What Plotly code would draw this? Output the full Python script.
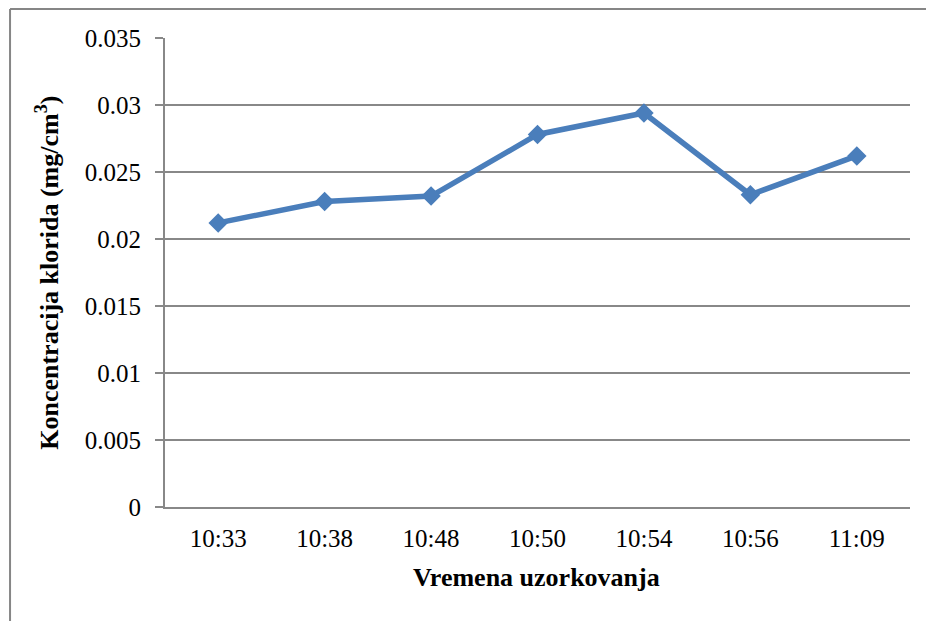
import plotly.graph_objects as go

times = ["10:33", "10:38", "10:48", "10:50", "10:54", "10:56", "11:09"]
chloride = [0.0212, 0.0228, 0.0232, 0.0278, 0.0294, 0.0233, 0.0262]
y_ticks = [0, 0.005, 0.01, 0.015, 0.02, 0.025, 0.03, 0.035]
y_tick_labels = ["0", "0.005", "0.01", "0.015", "0.02", "0.025", "0.03", "0.035"]

FONT = "Liberation Serif, Times New Roman, serif"
BLUE = "#4a7ebb"
GRID = "#888888"

fig = go.Figure()
fig.add_trace(go.Scatter(
    x=times, y=chloride, mode="lines+markers",
    line=dict(color=BLUE, width=5.5),
    marker=dict(symbol="diamond", size=15, color=BLUE),
    showlegend=False, cliponaxis=False,
))

fig.update_layout(
    width=926, height=621,
    margin=dict(l=165, r=16, t=38, b=114),
    paper_bgcolor="white", plot_bgcolor="white",
    font=dict(family=FONT, size=25, color="black"),
    xaxis=dict(
        type="category", range=[-0.5, 6.5],
        showline=True, linecolor=GRID, linewidth=2,
        showgrid=False, ticks="", tickfont=dict(size=25),
        ticklabelstandoff=8,
    ),
    yaxis=dict(
        range=[0, 0.035], tickvals=y_ticks, ticktext=y_tick_labels,
        showline=True, linecolor=GRID, linewidth=2,
        showgrid=True, gridcolor=GRID, gridwidth=2,
        ticks="outside", ticklen=8, tickcolor=GRID, tickwidth=2,
        tickfont=dict(size=25), ticklabelstandoff=9,
        zeroline=False,
    ),
    annotations=[
        dict(text="<b>Koncentracija klorida (mg/cm<sup>3</sup>)</b>",
             xref="paper", yref="paper", x=-0.158, y=0.5,
             textangle=-90, showarrow=False, font=dict(size=26),
             xanchor="center", yanchor="middle"),
        dict(text="<b>Vremena uzorkovanja</b>",
             xref="paper", yref="paper", x=0.499, y=-0.151,
             showarrow=False, font=dict(size=26),
             xanchor="center", yanchor="middle"),
    ],
    shapes=[
        dict(type="line", xref="paper", yref="paper",
             x0=-0.208, x1=-0.208, y0=1.0618, y1=-0.3,
             line=dict(color="#868686", width=2)),
        dict(type="line", xref="paper", yref="paper",
             x0=-0.208, x1=1.05, y0=1.0618, y1=1.0618,
             line=dict(color="#868686", width=2)),
    ],
)

fig.write_html(
    "out.html",
    config={"displayModeBar": False},
    post_script="document.body.style.margin='0';document.body.style.overflow='hidden';",
)
